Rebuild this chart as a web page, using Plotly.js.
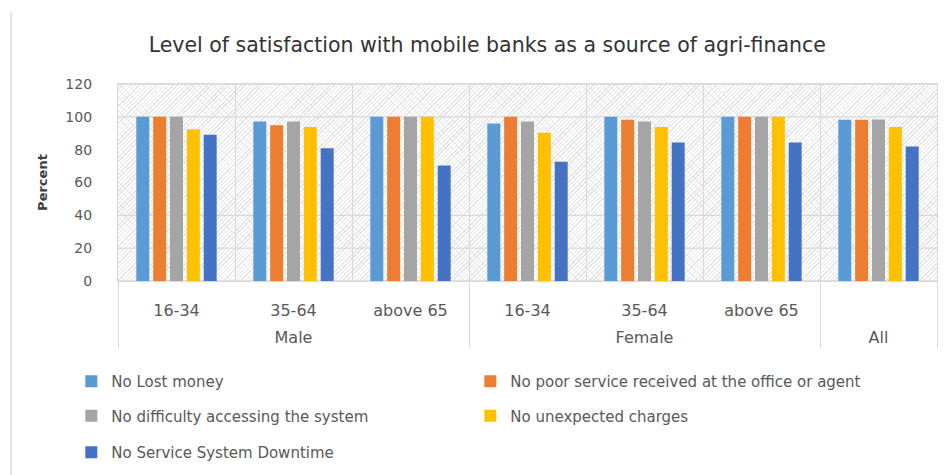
<!DOCTYPE html>
<html><head><meta charset="utf-8">
<script src="https://cdn.plot.ly/plotly-3.0.1.min.js"></script>
<style>
html,body{margin:0;padding:0;background:#fff;}
#wrap{position:relative;width:948px;height:475px;overflow:hidden;background:#fff;}
#hatch{position:absolute;left:118px;top:84px;width:819px;height:197px;background-color:#fff;
 background-image:repeating-linear-gradient(-45deg, rgba(200,200,200,.45) 0 1px, transparent 1px 3px),
 repeating-linear-gradient(45deg, rgba(215,215,215,.3) 0 1px, transparent 1px 5px);}
#border{position:absolute;left:10px;top:12px;width:2px;height:463px;background:#e3e3e3;}
#chart{position:absolute;left:0;top:0;width:948px;height:475px;}
</style></head>
<body>
<div id="wrap"><div id="hatch"></div><div id="border"></div><div id="chart"></div></div>
<script>
// ---- data ----
const groups = ["Male","Male","Male","Female","Female","Female","All"];
const ages = ["16-34","35-64","above 65","16-34","35-64","above 65"," "];
const seriesNames = [
  "No Lost money",
  "No poor service received at the office or agent",
  "No difficulty accessing the system",
  "No unexpected charges",
  "No Service System Downtime"
];
const lostMoney   = [100, 97.2, 100, 96.0, 100, 100, 98.2];
const poorService = [100, 94.8, 100, 100, 98.2, 100, 98.2];
const difficulty  = [100, 97.2, 100, 97.2, 97.2, 100, 98.4];
const unexpected  = [92.5, 93.8, 100, 90.3, 93.8, 100, 93.8];
const downtime    = [89.1, 80.8, 70.4, 72.6, 84.4, 84.4, 82.0];
const colors = ["#5B9BD5","#ED7D31","#A5A5A5","#FFC000","#4472C4"];
const yTicks = [0,20,40,60,80,100,120];
const gridVals = [0,20,40,100,120];

const FONT = "'DejaVu Sans', sans-serif";
const values = [lostMoney, poorService, difficulty, unexpected, downtime];
const legendIds = ["legend","legend","legend2","legend2","legend3"];
// second text line in the sub-labels leaves room above the group row
const ageLabels = ages.map(a => a + "<br> ");
const traces = values.map((v,i)=>({
  type:"bar",
  x:[groups, ageLabels],
  y:v,
  name:seriesNames[i],
  marker:{color:colors[i]},
  legend:legendIds[i],
  hoverinfo:"y+name"
}));

const gridColor = "#d9d9d9";
const shapes = gridVals.map(g=>({
  type:"line", xref:"paper", yref:"y", x0:0, x1:1, y0:g, y1:g,
  line:{color:gridColor, width:1.3}, layer:"below"
}));

const legendBase = {
  orientation:"h", xanchor:"left", yanchor:"middle", x:-0.057,
  entrywidth:354, entrywidthmode:"pixels",
  font:{family:FONT, size:15, color:"#595959"},
  bgcolor:"rgba(0,0,0,0)"
};

const layout = {
  width:948, height:475,
  paper_bgcolor:"rgba(0,0,0,0)", plot_bgcolor:"rgba(0,0,0,0)",
  margin:{l:118, r:11, t:84, b:194, autoexpand:false},
  font:{family:FONT, color:"#595959", size:14},
  title:{text:"Level of satisfaction with mobile banks as a source of agri-finance",
    font:{family:FONT, size:20.5, color:"#333"}, x:0.514, xanchor:"center", y:0.905, yanchor:"middle"},
  barmode:"group", bargap:0.28, bargroupgap:0.23,
  xaxis:{type:"multicategory", tickson:"boundaries", showgrid:true, gridcolor:gridColor, gridwidth:1.3,
    showdividers:true, dividercolor:gridColor, dividerwidth:1.3, automargin:false,
    ticks:"", ticklabelstandoff:15,
    showline:true, linecolor:gridColor, linewidth:1.3, mirror:true,
    tickfont:{family:FONT, size:16, color:"#595959"}},
  yaxis:{range:[0,120], tickvals:yTicks, showgrid:false, zeroline:false, automargin:false,
    showline:true, linecolor:gridColor, linewidth:1.3, mirror:true,
    ticks:"", ticklabelstandoff:22,
    tickfont:{family:FONT, size:14, color:"#595959"},
    title:{text:"<b>Percent</b>", font:{family:FONT, size:13, color:"#404040"}, standoff:14}},
  shapes:shapes,
  legend:Object.assign({}, legendBase, {y:-0.51}),
  legend2:Object.assign({}, legendBase, {y:-0.685}),
  legend3:Object.assign({}, legendBase, {y:-0.87}),
  showlegend:true
};

Plotly.newPlot("chart", traces, layout, {displayModeBar:false, responsive:false});
</script>
</body></html>
